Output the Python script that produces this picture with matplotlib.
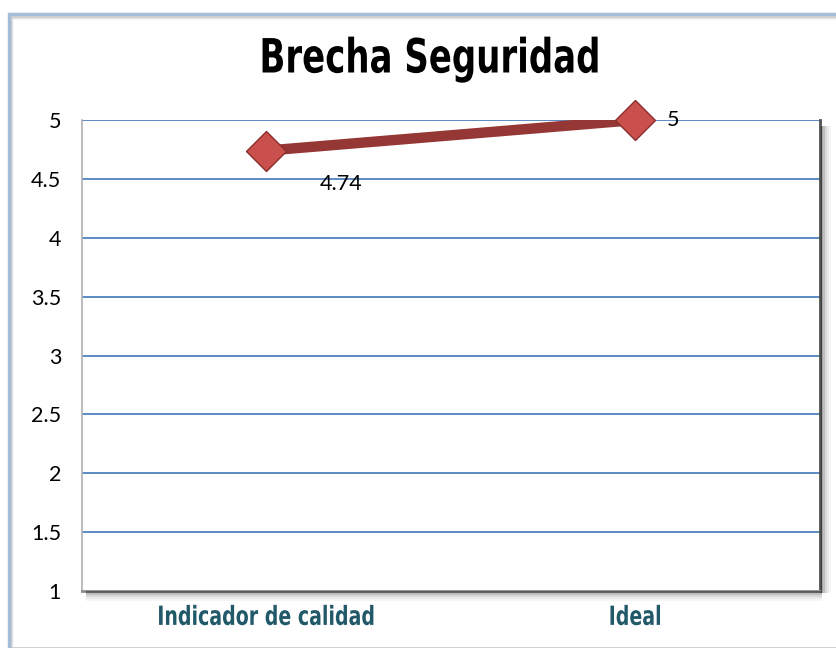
import matplotlib.pyplot as plt
from matplotlib.patches import Rectangle
from matplotlib.transforms import Affine2D
from matplotlib import patheffects

categorias = ["Indicador de calidad", "Ideal"]
valores = [4.74, 5]
etiquetas = ["4.74", "5"]
y_ticks = [1, 1.5, 2, 2.5, 3, 3.5, 4, 4.5, 5]
y_tick_labels = ["1", "1.5", "2", "2.5", "3", "3.5", "4", "4.5", "5"]


class Estrecho(patheffects.AbstractPathEffect):
    """Comprime el texto en horizontal alrededor de su centro."""

    def __init__(self, sx=0.72):
        super().__init__()
        self.sx = sx

    def draw_path(self, renderer, gc, tpath, affine, rgbFace=None):
        xs = tpath.vertices[:, 0]
        mid = (xs.min() + xs.max()) / 2 if len(xs) else 0
        t = Affine2D().translate(-mid, 0).scale(self.sx, 1).translate(mid, 0) + affine
        renderer.draw_path(gc, tpath, t, rgbFace)


W, H = 837, 648
fig = plt.figure(figsize=(W / 100, H / 100), dpi=100)

# marco del area del grafico
for i, a in enumerate([0.10, 0.07, 0.04]):
    fig.patches.append(Rectangle(((10 + i) / W, 0), 1, (H - 16 - i) / H, transform=fig.transFigure,
                                 fill=False, edgecolor="black", alpha=a, lw=2))
fig.patches.append(Rectangle((9 / W, -0.01), 1, (H - 14) / H + 0.01, transform=fig.transFigure,
                             fill=False, edgecolor="#a7bcd6", lw=2.5))

x0, x1, y0, y1 = 82, 820, 120, 591
ax = fig.add_axes([x0 / W, (H - y1) / H, (x1 - x0) / W, (y1 - y0) / H])

# sombra del area de trazado
for i, a in enumerate([0.35, 0.25, 0.15, 0.08, 0.04]):
    fig.patches.append(Rectangle(((x0 + 4) / W, (H - y1 - 2 - 2 * i) / H), (x1 - x0 - 2) / W, 2 / H,
                                 transform=fig.transFigure, color="black", alpha=a, lw=0))
    fig.patches.append(Rectangle(((x1 + 1 + 2 * i) / W, (H - y1 - 2) / H), 2 / W, (y1 - y0 - 4) / H,
                                 transform=fig.transFigure, color="black", alpha=a, lw=0))

x = list(range(len(categorias)))
ax.plot(x, valores, color="#953735", lw=7.5, solid_capstyle="butt", zorder=3)
ax.plot(x, valores, ls="none", marker="D", ms=20, markerfacecolor="#c9504d",
        markeredgecolor="#8a2f2d", markeredgewidth=1, zorder=4, clip_on=False)

ax.annotate(etiquetas[0], (x[0], valores[0]), xytext=(54, -24), textcoords="offset points",
            ha="center", va="center", fontsize=15.5, family="Lato", color="black", zorder=5)
ax.annotate(etiquetas[1], (x[1], valores[1]), xytext=(27, 0), textcoords="offset points",
            ha="center", va="center", fontsize=15.5, family="Lato", color="black", zorder=5)

ax.set_xlim(-0.5, 1.5)
ax.set_ylim(1, 5)
ax.set_yticks(y_ticks)
ax.set_yticklabels(y_tick_labels, family="Lato", fontsize=15.5)
ax.set_xticks(x)
ax.set_xticklabels(categorias, family="DejaVu Sans", fontweight="bold", fontsize=19,
                   color="#215968")
for t in ax.get_xticklabels():
    t.set_path_effects([Estrecho(0.72)])
ax.tick_params(axis="y", length=0, pad=15)
ax.tick_params(axis="x", length=0, pad=10)

for v in y_ticks[1:]:
    ax.axhline(v, color="#4f81bd", lw=1.3, zorder=1)

ax.spines["top"].set_visible(False)
ax.spines["left"].set_color("#b0b0b0")
ax.spines["left"].set_linewidth(1.2)
ax.spines["bottom"].set_color("#8c8c8c")
ax.spines["bottom"].set_linewidth(2)
ax.spines["right"].set_color("#505050")
ax.spines["right"].set_linewidth(2)

fig.text(431 / W, 1 - 60 / H, "Brecha Seguridad", ha="center", va="center",
         family="DejaVu Sans", fontweight="bold", fontsize=34, color="black",
         path_effects=[Estrecho(0.72)])

fig.savefig("out.png", dpi=100)
